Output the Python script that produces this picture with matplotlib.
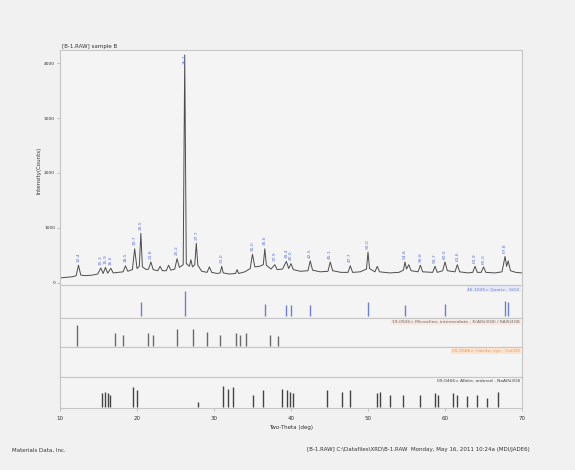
import matplotlib
matplotlib.use("Agg")
import matplotlib.pyplot as plt

# measured pattern, traced as (2-theta, counts) vertices
two_theta = [10.0, 10.8, 11.6, 12.1, 12.4, 12.7, 13.3, 14.2, 14.9, 15.3, 15.6, 15.9,
             16.2, 16.6, 16.9, 17.6, 18.2, 18.5, 18.8, 19.4, 19.7, 20.0, 20.3, 20.5,
             20.7, 21.2, 21.5, 21.8, 22.1, 22.7, 23.0, 23.3, 23.8, 24.1, 24.4, 24.9,
             25.2, 25.5, 26.0, 26.2, 26.4, 26.8, 27.0, 27.2, 27.5, 27.7, 27.9, 28.4,
             29.1, 29.4, 29.7, 30.4, 30.8, 31.0, 31.2, 32.0, 32.8, 33.0, 33.2, 34.0,
             34.7, 35.0, 35.3, 35.9, 36.4, 36.6, 36.8, 37.4, 37.9, 38.2, 38.9, 39.4,
             39.7, 40.0, 40.3, 41.2, 42.2, 42.5, 42.8, 43.8, 44.8, 45.1, 45.4, 46.5,
             47.4, 47.7, 48.0, 49.0, 49.8, 50.0, 50.2, 50.9, 51.2, 51.5, 52.8, 54.0,
             54.6, 54.8, 55.0, 55.3, 55.6, 56.5, 56.8, 57.1, 58.4, 58.7, 59.0, 59.7,
             60.0, 60.3, 61.3, 61.6, 61.9, 63.0, 63.6, 63.9, 64.2, 64.7, 65.0, 65.3,
             66.5, 67.4, 67.8, 68.0, 68.2, 68.5, 69.2, 70.0]
counts = [90, 100, 110, 130, 320, 140, 130, 140, 160, 270, 170, 280,
          175, 265, 180, 190, 200, 310, 210, 240, 620, 260, 300, 900,
          290, 240, 250, 380, 240, 220, 300, 220, 220, 320, 230, 250,
          440, 280, 330, 4150, 350, 300, 420, 290, 330, 720, 320, 210,
          190, 290, 190, 170, 180, 300, 180, 160, 170, 240, 170, 200,
          260, 520, 290, 300, 330, 620, 320, 250, 330, 240, 250, 390,
          260, 350, 240, 210, 220, 400, 230, 200, 210, 380, 220, 190,
          190, 310, 190, 200, 250, 560, 260, 200, 300, 200, 180, 190,
          230, 380, 250, 330, 220, 200, 320, 200, 190, 300, 190, 220,
          380, 220, 200, 330, 200, 180, 190, 300, 190, 190, 290, 190,
          180, 200, 480, 300, 400, 220, 190, 180]

# labelled peaks (2-theta, counts at the apex)
peak_pos = [12.4, 15.3, 15.9, 16.6, 18.5, 19.7, 20.5, 21.8, 25.2, 26.2, 27.7, 31.0,
            35.0, 36.6, 37.9, 39.4, 40.0, 42.5, 45.1, 47.7, 50.0, 54.8, 56.8, 58.7,
            60.0, 61.6, 63.9, 65.0, 67.8]
peak_top = [320, 270, 280, 265, 310, 620, 900, 380, 440, 4150, 720, 300,
            520, 620, 330, 390, 350, 400, 380, 310, 560, 380, 320, 300,
            380, 330, 300, 290, 480]

# reference card sticks
quartz_pos = [20.5, 26.2, 36.6, 39.4, 40.0, 42.5, 50.0, 54.8, 60.0, 67.8, 68.2]
quartz_int = [45, 80, 40, 35, 35, 35, 45, 35, 40, 50, 45]
micro_pos = [12.2, 17.1, 18.2, 21.4, 22.1, 25.2, 27.3, 29.1, 30.8, 32.9, 33.4, 34.2, 37.3, 38.3]
micro_int = [75, 45, 40, 45, 40, 60, 60, 50, 40, 45, 40, 45, 40, 35]
albite_pos = [15.5, 15.8, 16.2, 16.5, 19.5, 20.0, 27.9, 31.2, 31.8, 32.5, 35.1, 36.4,
              38.8, 39.5, 39.9, 40.3, 44.7, 46.6, 47.7, 51.2, 51.6, 52.9, 54.5, 56.8,
              58.7, 59.1, 61.0, 61.6, 62.9, 64.2, 65.5, 66.9]
albite_int = [45, 50, 45, 40, 65, 55, 15, 70, 60, 65, 40, 55,
              60, 55, 50, 45, 55, 50, 55, 45, 50, 40, 40, 40,
              45, 40, 45, 40, 35, 40, 30, 50]

card_labels = ["46-1045> Quartz - SiO2",
               "19-0926> Microcline, intermediate - K(AlSi3O8) / KAlSi3O8",
               "05-0586> Calcite, syn - CaCO3",
               "09-0466> Albite, ordered - NaAlSi3O8"]
card_colors = ["#6d7fd0", "#6a6a6a", "#e39a62", "#444444"]
card_bg = ["#e6e9f5", "#f7e8e2", "#fbe3cf", "#f2f2f2"]

W, H = 575, 470
fig = plt.figure(figsize=(W / 100, H / 100), dpi=100, facecolor="#f1f1f1")

def px_axes(y0, y1):
    x0, x1 = 60, 522
    return fig.add_axes([x0 / W, 1 - y1 / H, (x1 - x0) / W, (y1 - y0) / H])

grey = "#c6c6c6"

def style(ax):
    ax.set_facecolor("#f4f4f4")
    for s in ax.spines.values():
        s.set_color(grey)
        s.set_linewidth(0.8)
    ax.set_xlim(10, 70)
    ax.tick_params(length=2, width=0.5, color="#aaaaaa", labelsize=4, labelcolor="#333333")

# main pattern
ax = px_axes(50, 285)
style(ax)
ax.plot(two_theta, counts, color="#4d4d4d", lw=0.7)
ax.set_ylim(-40, 4240)
ax.set_yticks([0, 1000, 2000, 3000, 4000])
ax.tick_params(axis="y", labelsize=3.2, pad=1.5)
ax.set_xticks([])
for p, t in zip(peak_pos, peak_top):
    y = min(t + 60, 3980)
    ax.text(p, y, f"{p:.1f}", rotation=90, fontsize=3.2, color="#5a6fd6",
            ha="center", va="bottom")
ax.text(0.005, 1.005, "[B-1.RAW] sample B", transform=ax.transAxes,
        fontsize=4, color="#333333", ha="left", va="bottom")

# stick panels
panels = [(285, 318, quartz_pos, quartz_int),
          (318, 347, micro_pos, micro_int),
          (347, 377, [], []),
          (377, 408, albite_pos, albite_int)]
for i, (y0, y1, pos, inten) in enumerate(panels):
    a = px_axes(y0, y1)
    style(a)
    a.set_ylim(-5, 100)
    a.set_yticks([])
    if pos:
        a.vlines(pos, 0, inten, color=card_colors[i], lw=1.0)
    a.text(0.995, 0.93, card_labels[i], transform=a.transAxes, fontsize=3.2,
           color=card_colors[i], ha="right", va="top",
           bbox=dict(boxstyle="square,pad=0.2", fc=card_bg[i], ec="none"))
    if i < 3:
        a.set_xticks([])
    else:
        a.set_xticks([10, 20, 30, 40, 50, 60, 70])
        a.set_xlabel("Two-Theta (deg)", fontsize=4, color="#333333", labelpad=3)

fig.text(39 / W, 1 - 170 / H, "Intensity(Counts)", rotation=90, fontsize=4,
         color="#333333", ha="center", va="center")
fig.text(12 / W, 1 - 450 / H, "Materials Data, Inc.", fontsize=4, color="#333333",
         ha="left", va="center")
fig.text(530 / W, 1 - 450 / H,
         "[B-1.RAW] C:\\Datafiles\\XRD\\B-1.RAW  Monday, May 16, 2011 10:24a (MDI/JADE6)",
         fontsize=4, color="#333333", ha="right", va="center")

fig.savefig("out.png", dpi=100, facecolor=fig.get_facecolor())
